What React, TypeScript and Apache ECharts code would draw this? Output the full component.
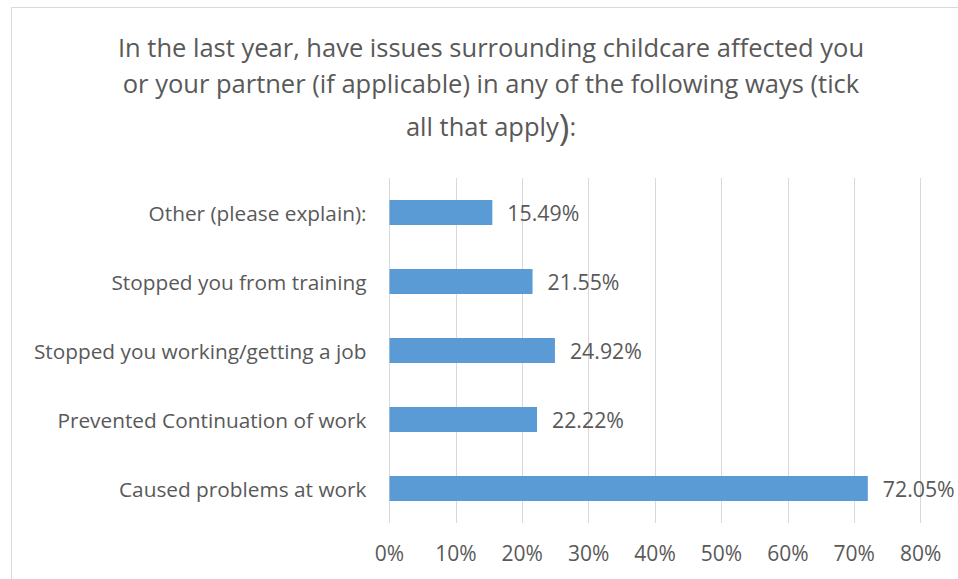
import React, { useEffect, useRef } from "react";
import * as echarts from "echarts";

const categories = [
  "Caused problems at work",
  "Prevented Continuation of work",
  "Stopped you working/getting a job",
  "Stopped you from training",
  "Other (please explain):",
];
const values = [72.05, 22.22, 24.92, 21.55, 15.49];
const titleLines = [
  "In the last year, have issues surrounding childcare affected you",
  "or your partner (if applicable) in any of the following ways (tick",
  "all that apply{p|)}:",
];
const xTicks = { min: 0, max: 80, interval: 10 };

const FONT = "'Open Sans', 'Noto Sans', sans-serif";
const TEXT = "#595959";
const TITLE_SIZE = 25.5;

export default function App() {
  const ref = useRef<HTMLDivElement>(null);
  useEffect(() => {
    document.body.style.margin = "0";
    const chart = echarts.init(ref.current!, null, { renderer: "svg" });
    chart.setOption({
      animation: false,
      textStyle: { fontFamily: FONT },
      grid: { left: 389.5, right: 37.4, top: 178, bottom: 56, containLabel: false },
      graphic: [
        {
          type: "rect",
          silent: true,
          shape: { x: 11.5, y: 7.5, width: 1000, height: 1000 },
          style: { fill: "none", stroke: "#D9D9D9", lineWidth: 1 },
        },
        {
          type: "text",
          x: 491,
          y: 47,
          style: {
            text: titleLines[0],
            textAlign: "center",
            textVerticalAlign: "middle",
            fill: TEXT,
            fontFamily: FONT,
            fontSize: TITLE_SIZE,
          },
        },
        {
          type: "text",
          x: 491,
          y: 83,
          style: {
            text: titleLines[1],
            textAlign: "center",
            textVerticalAlign: "middle",
            fill: TEXT,
            fontFamily: FONT,
            fontSize: TITLE_SIZE,
          },
        },
        {
          type: "text",
          x: 491,
          y: 126,
          style: {
            text: titleLines[2],
            textAlign: "center",
            textVerticalAlign: "middle",
            fill: TEXT,
            fontFamily: FONT,
            fontSize: TITLE_SIZE,
            rich: {
              p: { fontSize: 36, fill: TEXT, fontFamily: FONT },
            },
          },
        },
      ],
      xAxis: {
        type: "value",
        min: xTicks.min,
        max: xTicks.max,
        interval: xTicks.interval,
        axisLine: { show: false },
        axisTick: { show: false },
        splitLine: { show: true, lineStyle: { color: "#D9D9D9", width: 1 } },
        axisLabel: {
          formatter: "{value}%",
          color: TEXT,
          fontSize: 21,
          fontFamily: FONT,
          margin: 19,
        },
      },
      yAxis: {
        type: "category",
        data: categories,
        axisLine: { show: false },
        axisTick: { show: false },
        splitLine: { show: false },
        axisLabel: { color: TEXT, fontSize: 20.8, fontFamily: FONT, margin: 23 },
      },
      series: [
        {
          type: "bar",
          data: values,
          barWidth: 25,
          itemStyle: { color: "#5B9BD5" },
          label: {
            show: true,
            position: "right",
            distance: 15,
            formatter: (p: any) => p.value.toFixed(2) + "%",
            color: TEXT,
            fontSize: 21.3,
            fontFamily: FONT,
          },
        },
      ],
    });
    return () => chart.dispose();
  }, []);
  return (
    <div
      ref={ref}
      style={{ position: "absolute", left: 0, top: 0, width: 958, height: 579 }}
    />
  );
}
